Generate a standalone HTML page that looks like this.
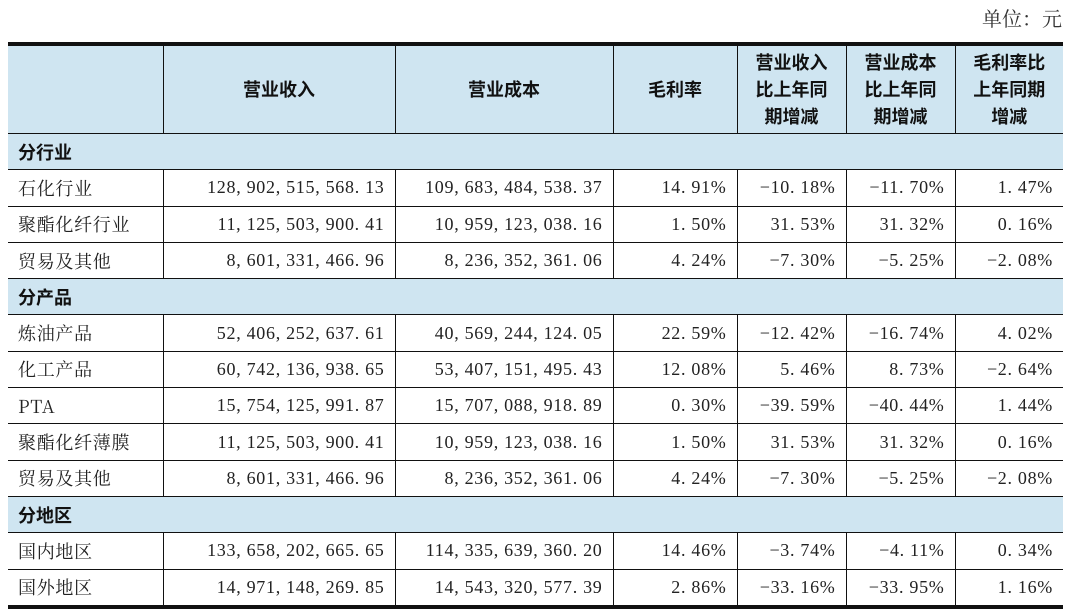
<!DOCTYPE html>
<html><head><meta charset="utf-8"><style>
body{margin:0;width:1080px;height:616px;background:#fff;position:relative;overflow:hidden}
.unit{position:absolute;right:18px;top:3px;font:20px "Liberation Serif","Noto Serif CJK SC",serif;color:#333}
table{position:absolute;left:8px;top:42px;width:1055px;border-collapse:collapse;table-layout:fixed;border-top:4px solid #111;border-bottom:4px solid #111}
td{border:1.5px solid #111;height:35.3px;padding:0 10px;font:18px "Liberation Serif","Noto Serif CJK SC",serif;color:#222;text-align:right;white-space:nowrap;letter-spacing:0.7px}
td:first-child{border-left:none;text-align:left;font-family:"Noto Serif CJK SC",serif}
td:last-child{border-right:none}
tr.h td{background:#cfe5f1;height:87px;text-align:center;font:bold 18px "Noto Sans CJK SC",sans-serif;line-height:27px;color:#111;padding:0 4px;letter-spacing:0}
tr.s td{background:#cfe5f1;text-align:left;font:bold 18px "Noto Sans CJK SC",sans-serif;color:#111;letter-spacing:0}
</style></head><body>
<div class="unit">单位：元</div>
<table>
<colgroup><col style="width:155px"><col style="width:232px"><col style="width:218px"><col style="width:124px"><col style="width:109px"><col style="width:109px"><col style="width:108px"></colgroup>
<tr class="h"><td></td><td>营业收入</td><td>营业成本</td><td>毛利率</td><td>营业收入<br>比上年同<br>期增减</td><td>营业成本<br>比上年同<br>期增减</td><td>毛利率比<br>上年同期<br>增减</td></tr>
<tr class="s"><td colspan="7">分行业</td></tr>
<tr><td>石化行业</td><td>128, 902, 515, 568. 13</td><td>109, 683, 484, 538. 37</td><td>14. 91%</td><td>−10. 18%</td><td>−11. 70%</td><td>1. 47%</td></tr>
<tr><td>聚酯化纤行业</td><td>11, 125, 503, 900. 41</td><td>10, 959, 123, 038. 16</td><td>1. 50%</td><td>31. 53%</td><td>31. 32%</td><td>0. 16%</td></tr>
<tr><td>贸易及其他</td><td>8, 601, 331, 466. 96</td><td>8, 236, 352, 361. 06</td><td>4. 24%</td><td>−7. 30%</td><td>−5. 25%</td><td>−2. 08%</td></tr>
<tr class="s"><td colspan="7">分产品</td></tr>
<tr><td>炼油产品</td><td>52, 406, 252, 637. 61</td><td>40, 569, 244, 124. 05</td><td>22. 59%</td><td>−12. 42%</td><td>−16. 74%</td><td>4. 02%</td></tr>
<tr><td>化工产品</td><td>60, 742, 136, 938. 65</td><td>53, 407, 151, 495. 43</td><td>12. 08%</td><td>5. 46%</td><td>8. 73%</td><td>−2. 64%</td></tr>
<tr><td>PTA</td><td>15, 754, 125, 991. 87</td><td>15, 707, 088, 918. 89</td><td>0. 30%</td><td>−39. 59%</td><td>−40. 44%</td><td>1. 44%</td></tr>
<tr><td>聚酯化纤薄膜</td><td>11, 125, 503, 900. 41</td><td>10, 959, 123, 038. 16</td><td>1. 50%</td><td>31. 53%</td><td>31. 32%</td><td>0. 16%</td></tr>
<tr><td>贸易及其他</td><td>8, 601, 331, 466. 96</td><td>8, 236, 352, 361. 06</td><td>4. 24%</td><td>−7. 30%</td><td>−5. 25%</td><td>−2. 08%</td></tr>
<tr class="s"><td colspan="7">分地区</td></tr>
<tr><td>国内地区</td><td>133, 658, 202, 665. 65</td><td>114, 335, 639, 360. 20</td><td>14. 46%</td><td>−3. 74%</td><td>−4. 11%</td><td>0. 34%</td></tr>
<tr><td>国外地区</td><td>14, 971, 148, 269. 85</td><td>14, 543, 320, 577. 39</td><td>2. 86%</td><td>−33. 16%</td><td>−33. 95%</td><td>1. 16%</td></tr>
</table>
</body></html>
